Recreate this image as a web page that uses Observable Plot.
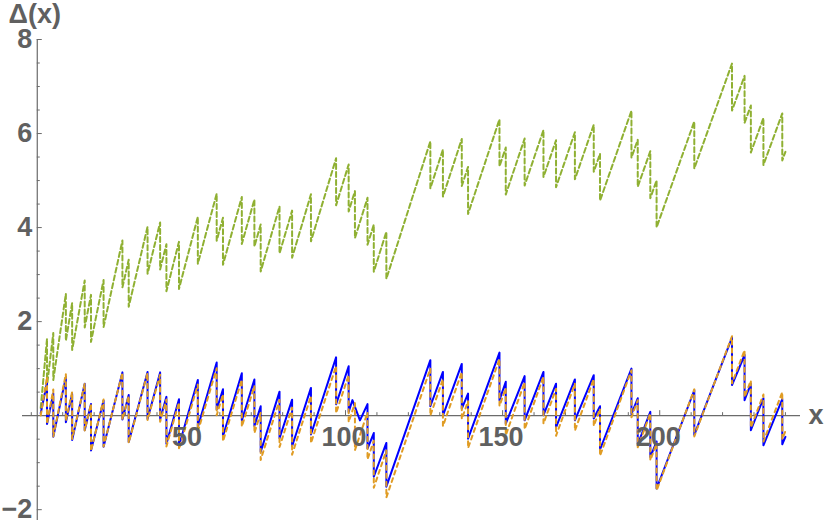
<!DOCTYPE html>
<html><head><meta charset="utf-8">
<script src="https://cdn.jsdelivr.net/npm/d3@7"></script>
<script src="https://cdn.jsdelivr.net/npm/@observablehq/plot@0.6"></script>
<style>
body{margin:0;background:#fff}
#chart{width:825px;height:526px;overflow:hidden}
</style>
</head><body><div id="chart"></div>
<script>
// ---- data ----
const xStart = 3;
const xEnd = 240;
const jumpX = [5,7,11,13,17,19,23,29,31,37,41,43,47,53,59,61,67,71,73,79,83,89,97,101,103,107,109,113,127,131,137,139,149,151,157,163,167,173,179,181,191,193,197,199,211,223,227,229,233,239];

// green: li(x) - pi(x), value just before and just after each jump
const greenStart = 0.164;
const greenEnd = 5.610;
const greenPre = [1.635,1.758,2.591,2.396,2.876,2.569,2.883,3.727,3.315,4.018,4.110,3.645,3.696,4.230,4.721,4.209,4.652,4.597,4.064,4.450,4.360,4.707,5.473,5.343,4.775,4.635,4.062,3.911,5.836,5.659,5.884,5.290,6.302,5.702,5.893,6.075,5.858,6.027,6.187,5.572,6.486,5.866,5.625,5.003,6.257,7.488,7.226,6.595,6.330,6.428];
const greenPost = [0.635,0.758,1.591,1.396,1.876,1.569,1.883,2.727,2.315,3.018,3.110,2.645,2.696,3.230,3.721,3.209,3.652,3.597,3.064,3.450,3.360,3.707,4.473,4.343,3.775,3.635,3.062,2.911,4.836,4.659,4.884,4.290,5.302,4.702,4.893,5.075,4.858,5.027,5.187,4.572,5.486,4.866,4.625,4.003,5.257,6.488,6.226,5.595,5.330,5.428];

// orange (dotted): value just before and just after each jump
const orangeStart = 0.005;
const orangeEnd = -0.326;
const orangePre = [0.823,0.557,0.884,0.504,0.683,0.249,0.343,0.914,0.421,0.907,0.871,0.345,0.282,0.660,1.008,0.452,0.766,0.630,0.059,0.332,0.171,0.416,1.054,0.864,0.266,0.068,-0.534,-0.740,1.001,0.775,0.927,0.309,1.207,0.584,0.710,0.829,0.571,0.679,0.780,0.146,0.965,0.327,0.049,-0.590,0.559,1.688,1.394,0.746,0.449,0.499];
const orangePost = [-0.177,-0.443,-0.116,-0.496,-0.317,-0.751,-0.657,-0.086,-0.579,-0.093,-0.129,-0.655,-0.718,-0.340,0.008,-0.548,-0.234,-0.370,-0.941,-0.668,-0.829,-0.584,0.054,-0.136,-0.734,-0.932,-1.534,-1.740,0.001,-0.225,-0.073,-0.691,0.207,-0.416,-0.290,-0.171,-0.429,-0.321,-0.220,-0.854,-0.035,-0.673,-0.951,-1.590,-0.441,0.688,0.394,-0.254,-0.551,-0.501];

// blue (solid): vertices
const blueX = [3,5,5,7,7,11,11,13,13,17,17,19,19,23,23,29,29,31,31,37,37,41,41,43,43,47,47,53,53,59,59,61,61,67,67,71,71,73,73,79,79,83,83,89,89,97,97,101,101,102.2,104.6,107,107,109,109,113,113,127,127,131,131,137,137,139,139,149,149,151,151,157,157,163,163,167,167,173,173,179,179,181,181,191,191,193,193,197,197,199,199,211,211,223,223,227,227,229,229,233,233,239,239,240];
const blueY = [0.05,0.70,-0.18,0.47,-0.45,0.82,-0.14,0.46,-0.52,0.68,-0.31,0.25,-0.74,0.32,-0.66,0.92,-0.08,0.44,-0.56,0.93,-0.07,0.92,-0.08,0.40,-0.60,0.35,-0.64,0.76,-0.24,1.13,0.13,0.56,-0.44,0.90,-0.10,0.77,-0.22,0.20,-0.77,0.51,-0.48,0.34,-0.65,0.59,-0.40,1.24,0.24,1.05,0.08,0.33,-0.10,0.245,-0.70,-0.37,-1.30,-0.58,-1.51,1.18,0.20,0.93,0.00,1.10,0.15,0.47,-0.49,1.34,0.33,0.72,-0.17,0.84,-0.10,0.93,0.01,0.68,-0.25,0.77,-0.10,0.86,-0.06,0.20,-0.72,1.00,0.03,0.37,-0.61,0.08,-0.88,-0.55,-1.55,0.54,-0.41,1.66,0.65,1.29,0.33,0.68,-0.31,0.37,-0.63,0.35,-0.61,-0.45];

const xMajor = [50,100,150,200];
const xMinor = [0,10,20,30,40,60,70,80,90,110,120,130,140,160,170,180,190,210,220,230,240];
const yMajor = [-2,2,4,6,8];
const yMinor = [-1.5,-1,-0.5,0.5,1,1.5,2.5,3,3.5,4.5,5,5.5,6.5,7,7.5];
const xLabel = "x";
const yLabel = "Δ(x)";

// ---- layout ----
const W = 825, H = 526;
const mL = 22, mR = 25, mT = 39, mB = 6;
const xDom = [-2.8, 244.8], yDom = [-2.23, 8];
const yAxisAt = 1.9;
const axisColor = "#6b6b6b";
const labelColor = "#606060";
const font = "'Liberation Sans', Arial, sans-serif";
const px = v => mL + (v - xDom[0]) / (xDom[1] - xDom[0]) * (W - mL - mR);
const py = v => mT + (yDom[1] - v) / (yDom[1] - yDom[0]) * (H - mT - mB);
const y0 = py(0), xa = px(yAxisAt);

function series(start, pre, post, end) {
  const pts = [{x: xStart, y: start}];
  jumpX.forEach((p, i) => { pts.push({x: p, y: pre[i]}); pts.push({x: p, y: post[i]}); });
  pts.push({x: xEnd, y: end});
  return pts;
}
const green = series(greenStart, greenPre, greenPost, greenEnd);
const orange = series(orangeStart, orangePre, orangePost, orangeEnd);
const blue = blueX.map((x, i) => ({x, y: blueY[i]}));

const xTickMark = (vals, len) => Plot.tickX(vals, {x: d => d, stroke: axisColor, strokeWidth: 1,
  insetTop: (y0 - len) - mT, insetBottom: (H - mB) - y0});
const yTickMark = (vals, len) => Plot.tickY(vals, {y: d => d, stroke: axisColor, strokeWidth: 1,
  insetLeft: xa - mL, insetRight: (W - mR) - (xa + len)});

const chart = Plot.plot({
  width: W, height: H,
  marginLeft: mL, marginRight: mR, marginTop: mT, marginBottom: mB,
  x: {domain: xDom, axis: null},
  y: {domain: yDom, axis: null},
  style: {background: "#fff", fontFamily: font},
  marks: [
    Plot.line(green, {x: "x", y: "y", stroke: "#8fb032", strokeWidth: 2, strokeDasharray: "5,3"}),
    Plot.ruleY([0], {stroke: axisColor, strokeWidth: 1.2}),
    Plot.ruleX([yAxisAt], {stroke: axisColor, strokeWidth: 1.2}),
    xTickMark(xMajor, 5), xTickMark(xMinor, 3),
    yTickMark(yMajor, 5), yTickMark(yMinor, 3),
    Plot.line(blue, {x: "x", y: "y", stroke: "#0000ff", strokeWidth: 2}),
    Plot.line(orange, {x: "x", y: "y", stroke: "#e09c24", strokeWidth: 2, strokeDasharray: "4,4"}),
    Plot.text(xMajor, {x: d => d, y: () => 0, text: d => String(d), dy: 22, dx: -1.5,
      fontSize: 27, fontWeight: "bold", fill: labelColor, textAnchor: "middle"}),
    Plot.text(yMajor, {x: () => yAxisAt, y: d => d, text: d => (d < 0 ? "\u2212" : "") + Math.abs(d), dx: -5,
      fontSize: 27, fontWeight: "bold", fill: labelColor, textAnchor: "end"}),
    Plot.text([xLabel], {x: () => xDom[1], y: () => 0, text: d => d, dx: 8, textAnchor: "start",
      fontSize: 27, fontWeight: "bold", fill: labelColor, clip: false}),
    Plot.text([yLabel], {frameAnchor: "top-left", text: d => d, dx: -14, dy: -17, textAnchor: "start",
      lineAnchor: "bottom", fontSize: 27, fontWeight: "bold", fill: labelColor})
  ]
});
document.getElementById("chart").appendChild(chart);
</script>
</body></html>
